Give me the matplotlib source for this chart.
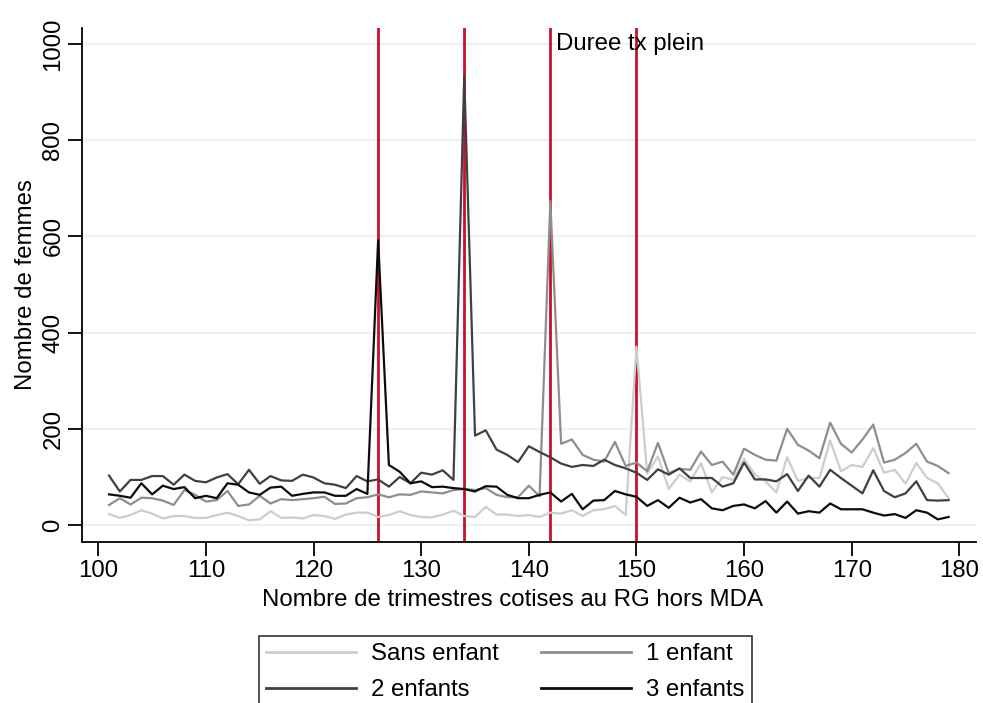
import matplotlib
matplotlib.use("Agg")
import matplotlib.pyplot as plt
from matplotlib import font_manager

# regular (non-narrow) Liberation Sans
regular = [f for f in font_manager.fontManager.ttflist
           if "LiberationSans-Regular" in f.fname]
family = regular[0].name if regular else "Liberation Sans"
plt.rcParams['font.family'] = [family, 'DejaVu Sans']

trimestres = list(range(101, 180))

sans_enfant = [23, 15, 21, 31, 24, 14, 19, 19, 15, 15,
               21, 26, 19, 10, 12, 29, 15, 16, 14, 21,
               19, 13, 22, 26, 26, 17, 21, 29, 21, 17,
               16, 22, 30, 19, 17, 38, 22, 22, 19, 21,
               17, 26, 24, 31, 19, 31, 33, 40, 21, 371,
               107, 143, 75, 105, 91, 129, 68, 100, 94, 138,
               105, 91, 68, 141, 92, 98, 98, 176, 112, 125,
               121, 160, 109, 115, 86, 129, 98, 87, 56]

un_enfant = [42, 56, 43, 57, 56, 51, 42, 73, 63, 49,
             52, 71, 40, 43, 61, 45, 54, 52, 54, 56,
             59, 44, 45, 56, 58, 64, 58, 64, 63, 70,
             68, 66, 73, 75, 73, 77, 63, 58, 58, 82,
             60, 673, 169, 178, 146, 136, 132, 173, 123, 130,
             112, 171, 108, 117, 115, 153, 125, 132, 105, 159,
             146, 136, 134, 200, 167, 155, 139, 213, 169, 151,
             178, 209, 130, 136, 150, 169, 132, 123, 108]

deux_enfants = [103, 70, 94, 94, 102, 102, 84, 105, 92, 89,
                99, 106, 85, 115, 86, 102, 93, 92, 105, 99,
                87, 84, 77, 102, 91, 95, 80, 100, 87, 109,
                105, 114, 94, 933, 186, 197, 157, 146, 131, 164,
                152, 141, 128, 121, 125, 123, 136, 125, 118, 109,
                94, 116, 105, 118, 98, 98, 98, 80, 87, 130,
                95, 95, 91, 106, 71, 103, 80, 115, 98, 82,
                66, 114, 71, 58, 66, 91, 52, 51, 52]

trois_enfants = [64, 61, 57, 87, 64, 82, 75, 79, 56, 61,
                 56, 87, 84, 68, 63, 78, 80, 61, 65, 68,
                 68, 61, 61, 75, 65, 592, 125, 111, 87, 91,
                 79, 80, 77, 75, 70, 81, 80, 63, 56, 56,
                 63, 68, 49, 65, 33, 51, 52, 71, 64, 59,
                 40, 52, 36, 57, 47, 54, 35, 31, 40, 43,
                 35, 50, 26, 49, 24, 29, 26, 45, 33, 33,
                 33, 26, 20, 23, 15, 31, 26, 12, 17]

durees_taux_plein = [126, 134, 142, 150]

series = [
    ("Sans enfant", sans_enfant, "#cdcdcd"),
    ("1 enfant", un_enfant, "#8e8e8e"),
    ("2 enfants", deux_enfants, "#404040"),
    ("3 enfants", trois_enfants, "#0c0c0c"),
]

fs = 17.3
fig = plt.figure(figsize=(9.83, 7.03), dpi=100)
ax = fig.add_axes([0.0839, 0.2297, 0.909, 0.7305])

for y in range(0, 1001, 200):
    ax.axhline(y, color="#eaf2f3", lw=1.6, zorder=0)

for d in durees_taux_plein:
    ax.axvline(d, color="#c8102e", lw=2.0, zorder=1)
ax.text(142.5, 1000, "Duree tx plein", fontsize=fs, va="center", ha="left")

handles = {}
for name, vals, col in series:
    handles[name], = ax.plot(trimestres, vals, color=col, lw=1.6, label=name, zorder=2)

ax.set_xlim(98.53, 181.55)
ax.set_ylim(-34, 1033)
ax.set_xticks(range(100, 181, 10))
ax.set_yticks(range(0, 1001, 200))
for s in ("top", "right"):
    ax.spines[s].set_visible(False)
for s in ("left", "bottom"):
    ax.spines[s].set_linewidth(1.3)
ax.tick_params(axis="both", length=10, width=1.3, labelsize=fs)
ax.tick_params(axis="x", pad=3)
ax.tick_params(axis="y", pad=3)
for lab in ax.get_yticklabels():
    lab.set_rotation(90)
    lab.set_va("center")

ax.set_xlabel("Nombre de trimestres cotises au RG hors MDA", fontsize=fs)
ax.xaxis.set_label_coords(0.4807, -0.093)
ax.set_ylabel("Nombre de femmes", fontsize=fs)
ax.yaxis.set_label_coords(-0.051, 0.5)

# legend filled column by column, so order gives rows: sans/1, 2/3
order = ["Sans enfant", "2 enfants", "1 enfant", "3 enfants"]
leg = fig.legend([handles[n] for n in order], order,
                 loc="upper left", bbox_to_anchor=(259 / 983, 1 - 636 / 703),
                 ncol=2, fontsize=fs, frameon=True, fancybox=False,
                 edgecolor="black", handlelength=3.75, handletextpad=0.62,
                 columnspacing=1.75, labelspacing=0.58, borderpad=0.3,
                 borderaxespad=0)
leg.get_frame().set_linewidth(1.2)
for h in leg.get_lines():
    h.set_linewidth(2.0)

fig.savefig("out.png", dpi=100)
